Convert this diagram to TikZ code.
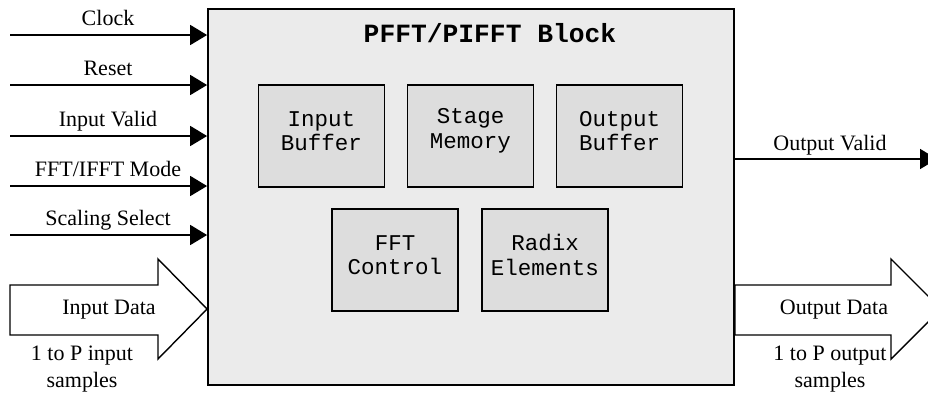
\documentclass[tikz,border=0pt]{standalone}
\usepackage{fontspec}
\setmainfont{Liberation Serif}
\newfontfamily\monofont{Liberation Mono}
\usetikzlibrary{arrows.meta}
\definecolor{blockgray}{HTML}{EBEBEB}
\definecolor{unitgray}{HTML}{DDDDDD}
\tikzset{
	signal/.style={line width=1.6pt, -{Triangle[length=17pt,width=20pt]}},
	siglabel/.style={font=\fontsize{22}{27}\selectfont, anchor=base, align=center, inner sep=0pt},
	unit/.style={draw, line width=1.8pt, fill=unitgray, minimum width=126pt, minimum height=102pt,
			label={[unitlabel]center:#1}},
	unitlabel/.style={font=\monofont\fontsize{22.5}{24.5}\selectfont, align=center, yshift=5pt},
	bigarrow/.style={draw, line width=1.4pt, fill=white, line join=miter}
}

\begin{document}
\begin{tikzpicture}[x=1pt, y=-1pt]
	\path[use as bounding box, fill=white] (0,0) rectangle (928,394);

	% Main block
	\node[draw, line width=1.8pt, fill=blockgray, minimum width=526pt, minimum height=376pt, inner sep=0pt]
	(blk) at (471,197) {};
	\node[font=\monofont\bfseries\fontsize{26.3}{30}\selectfont, anchor=base] (title) at (490,42) {PFFT/PIFFT Block};

	% Inner units
	\node[unit={Input\\Buffer}] (ibuf) at (321.5,136) {};
	\node[unit={Stage\\Memory}] (smem) at (470.5,136) {};
	\node[unit={Output\\Buffer}] (obuf) at (619.5,136) {};
	\node[unit={FFT\\Control}] (fctl) at (395,260) {};
	\node[unit={Radix\\Elements}] (radx) at (545,260) {};

	% Control inputs
	\foreach \y/\name/\txt in {35/clk/Clock, 85/rst/Reset, 136/ivld/Input Valid,
			186/mode/{FFT/IFFT Mode}, 235/scl/Scaling Select} {
			\coordinate (\name-in) at (10,\y);
			\draw[signal] (\name-in) -- (\name-in -| blk.west);
			\node[siglabel] (\name-lbl) at (108,{\y-10}) {\txt};
		}

	% Output valid
	\coordinate (ovld-out) at (937,159);
	\draw[signal] (blk.east |- ovld-out) -- (ovld-out);
	\node[siglabel] (ovld-lbl) at (830,150) {Output Valid};

	% Data arrows
	\draw[bigarrow] (10,285) -- (158,285) -- (158,259) -- (blk.west |- 0,309) -- (158,359) -- (158,335) -- (10,335) -- cycle;
	\node[siglabel] (idata) at (109,314) {Input Data};
	\node[siglabel] (isamp) at (82,387) {1 to P input\\samples};

	\draw[bigarrow] (blk.east |- 0,285) -- (891,285) -- (891,259) -- (941,309) -- (891,359) -- (891,335) -- (blk.east |- 0,335) -- cycle;
	\node[siglabel] (odata) at (834,314) {Output Data};
	\node[siglabel] (osamp) at (830,387) {1 to P output\\samples};
\end{tikzpicture}
\end{document}
